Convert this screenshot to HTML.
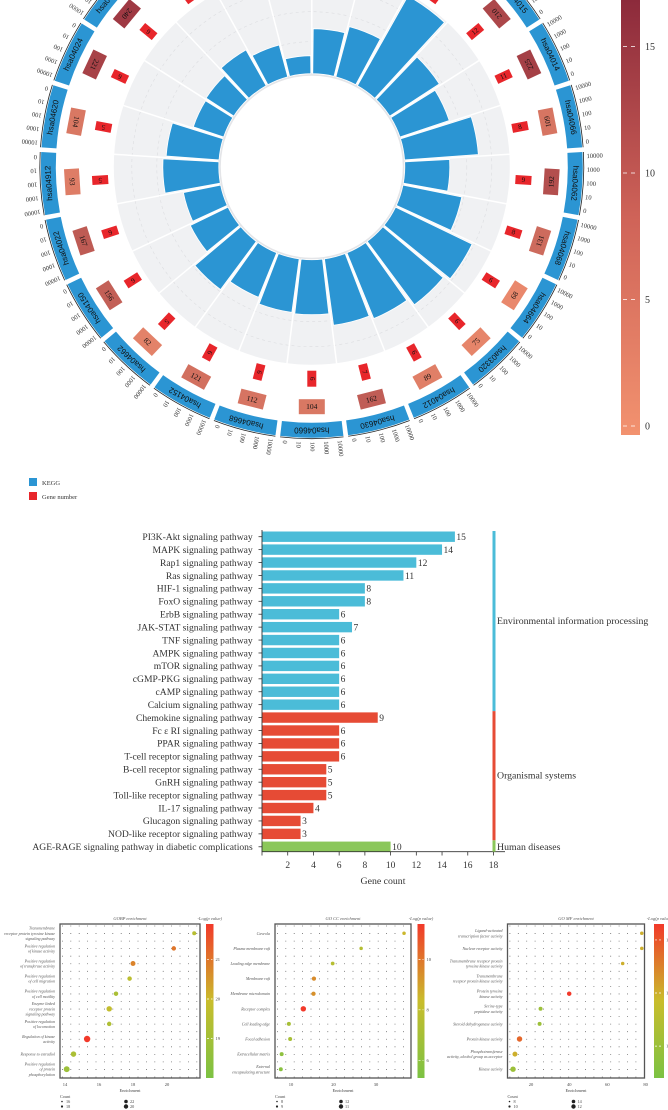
<!DOCTYPE html>
<html><head><meta charset="utf-8">
<style>
html,body{margin:0;padding:0;background:#fff;}
svg{display:block;font-family:"Liberation Serif",serif;}
</style></head>
<body>
<svg id="fig" width="668" height="1110" viewBox="0 0 668 1110" xmlns="http://www.w3.org/2000/svg">
<defs>
<linearGradient id="cbRed" x1="0" y1="1" x2="0" y2="0">
<stop offset="0" stop-color="#f2926f"/><stop offset="0.5" stop-color="#cf6358"/><stop offset="1" stop-color="#8c2a3b"/>
</linearGradient>
<linearGradient id="cbGo" x1="0" y1="1" x2="0" y2="0">
<stop offset="0" stop-color="#7cc243"/><stop offset="0.5" stop-color="#c9bd2c"/><stop offset="1" stop-color="#f2392a"/>
</linearGradient>
</defs>
<g id="circ"></g>
<g id="legend">
<rect x="29" y="478" width="8" height="8" fill="#2b95d3"/>
<text x="42" y="485" font-size="6.5" fill="#333">KEGG</text>
<rect x="29" y="492" width="8" height="8" fill="#e8262b"/>
<text x="42" y="499" font-size="6.5" fill="#333">Gene number</text>
</g>
<g id="bars"></g>
<g id="dots"></g>
</svg>
<script>
// ---------- circular chart data ----------
const sectorIds = ["hsa04660","hsa04668","hsa04152","hsa04662","hsa04150","hsa04022","hsa04912","hsa04620","hsa04024","hsa04020","hsa04657","hsa04922","hsa04621","hsa04933","hsa04151","hsa04010","hsa04015","hsa04014","hsa04066","hsa04062","hsa04068","hsa04664","hsa03320","hsa04012","hsa04630"];
const geneNumbers = [6,6,6,5,6,6,5,5,6,6,4,3,3,10,15,14,12,11,8,9,8,6,6,6,7];
const pathwaySizes = [104,112,121,82,156,167,93,104,221,240,94,105,98,100,354,294,210,225,109,192,131,68,75,89,162];
const keggValues = [57,56,50,62,44,40,58,55,34,35,43,35,20,47,54,105,61,54,76,47,62,87,81,73,69];
const ringTicks = ["0","10","100","1000","10000"];
const colorbarTicks = [0,5,10,15];

// ---------- bar chart data ----------
const pathways = ["PI3K-Akt signaling pathway","MAPK signaling pathway","Rap1 signaling pathway","Ras signaling pathway","HIF-1 signaling pathway","FoxO signaling pathway","ErbB signaling pathway","JAK-STAT signaling pathway","TNF signaling pathway","AMPK signaling pathway","mTOR signaling pathway","cGMP-PKG signaling pathway","cAMP signaling pathway","Calcium signaling pathway","Chemokine signaling pathway","Fc \u03b5 RI signaling pathway","PPAR signaling pathway","T-cell receptor signaling pathway","B-cell receptor signaling pathway","GnRH signaling pathway","Toll-like receptor signaling pathway","IL-17 signaling pathway","Glucagon signaling pathway","NOD-like receptor signaling pathway","AGE-RAGE signaling pathway in diabetic complications"];
const geneCounts = [15,14,12,11,8,8,6,7,6,6,6,6,6,6,9,6,6,6,5,5,5,4,3,3,10];
const pathwayGroups = [0,0,0,0,0,0,0,0,0,0,0,0,0,0,1,1,1,1,1,1,1,1,1,1,2];
const groupNames = ["Environmental information processing","Organismal systems","Human diseases"];
const xTicks = [2,4,6,8,10,12,14,16,18];

// ---------- GO dot plot data ----------
const bpTerms = [["Transmembrane","receptor protein tyrosine kinase","signaling pathway"],["Positive regulation","of kinase activity"],["Positive regulation","of transferase activity"],["Positive regulation","of cell migration"],["Positive regulation","of cell motility"],["Enzyme linked","receptor protein","signaling pathway"],["Positive regulation","of locomotion"],["Regulation of kinase","activity"],["Response to estradiol"],["Positive regulation","of protein","phosphorylation"]];
const bpEnrich = [21.6,20.4,18,17.8,17,16.6,16.6,15.3,14.5,14.1];
const bpLogP = [19.5,21,20.8,19.6,19.2,19.8,19.3,21.9,19.2,18.8];
const bpCount = [10,12,14,12,12,16,12,20,16,18];
const bpTicks = [14,16,18,20];
const bpCbTicks = [19,20,21];

const ccTerms = [["Caveola"],["Plasma membrane raft"],["Leading edge membrane"],["Membrane raft"],["Membrane microdomain"],["Receptor complex"],["Cell leading edge"],["Focal adhesion"],["Extracellular matrix"],["External","encapsulating structure"]];
const ccEnrich = [36.6,26.5,19.8,15.4,15.3,12.9,9.5,9.8,7.8,7.6];
const ccLogP = [8.5,7.5,7.6,9.5,9.4,11.4,7,7,6,5.8];
const ccCount = [8,8,9,11,11,16,10,10,10,10];
const ccTicks = [10,20,30];
const ccCbTicks = [6,8,10];

const mfTerms = [["Ligand-activated","transcription factor activity"],["Nuclear receptor activity"],["Transmembrane receptor protein","tyrosine kinase activity"],["Transmembrane","receptor protein kinase activity"],["Protein tyrosine","kinase activity"],["Serine-type","peptidase activity"],["Steroid dehydrogenase activity"],["Protein kinase activity"],["Phosphotransferase","activity, alcohol group as acceptor"],["Kinase activity"]];
const mfEnrich = [78,78,68,null,40,25,24.5,14,11.6,10.6];
const mfLogP = [13,13,13,null,14.3,12,12,13.8,13,12];
const mfCount = [8,8,8,0,12,10,10,16,14,16];
const mfTicks = [20,40,60,80];
const mfCbTicks = [12,13,14];

const NS = "http://www.w3.org/2000/svg";
function mk(tag, attrs, parent){
  const e = document.createElementNS(NS, tag);
  for (const k in attrs) e.setAttribute(k, attrs[k]);
  if (parent) parent.appendChild(e);
  return e;
}

// ================= circular chart =================
(function(){
  const g = document.getElementById('circ');
  const cx = 311.8, cy = 166.7;
  const n = sectorIds.length, step = 360 / n;
  const rIn = 91, rOut = 198;
  const rad = d => d * Math.PI / 180;
  const P = (r, d) => [cx + r * Math.cos(rad(d)), cy + r * Math.sin(rad(d))];
  function sector(r0, r1, a0, a1){
    const p0 = P(r1, a0), p1 = P(r1, a1), p2 = P(r0, a1), p3 = P(r0, a0);
    const la = (a1 - a0) > 180 ? 1 : 0;
    return `M${p0[0]},${p0[1]} A${r1},${r1} 0 ${la} 1 ${p1[0]},${p1[1]} L${p2[0]},${p2[1]} A${r0},${r0} 0 ${la} 0 ${p3[0]},${p3[1]} Z`;
  }
  const angle = k => 90 + k * step;
  const rScale = v => rIn + v;

  const bg = mk('circle', {cx, cy, r:(rIn+rOut)/2, fill:'none', stroke:'#f0f1f3', 'stroke-width':rOut-rIn}, g);
  
  
  [125,155,180].forEach(r => {
    const c = mk('circle', {cx, cy, r, fill:'none', stroke:'#dcdde0', 'stroke-width':0.6, 'stroke-dasharray':'3 3'}, g);
    
    
  });
  for (let k = 0; k < n; k++){
    const a = angle(k) - step/2;
    const p0 = P(rIn, a), p1 = P(rOut + 1, a);
    const l = mk('line', {x1:p0[0], y1:p0[1], x2:p1[0], y2:p1[1], stroke:'#fff', 'stroke-width':1.5}, g);
    
    
  }
  const inner = mk('circle', {cx, cy, r:rIn+1.5, fill:'#fff', stroke:'#e4e5e8', 'stroke-width':3}, g);
  
  

  function sizeColor(v){
    const t = Math.max(0, Math.min(1, (v - 60) / 200));
    const a = [236,140,110], b = [150,48,62];
    return `rgb(${a.map((x,i)=>Math.round(x+(b[i]-x)*t)).join(',')})`;
  }

  for (let k = 0; k < n; k++){
    const a = angle(k);
    const bar = mk('path', {d: sector(rIn + 2, rScale(keggValues[k]), a - step/2 + 0.6, a + step/2 - 0.6), fill:'#2b95d3', stroke:'#fff', 'stroke-width':0.8}, g);
    
    

    const ring = mk('path', {d: sector(256, 271, a - step/2 + 0.5, a + step/2 - 0.5), fill:'#2b95d3'}, g);
    
    
    const lp = P(263.5, a);
    const lt = mk('text', {x:lp[0], y:lp[1], 'font-size':8, 'font-family':'Liberation Sans, sans-serif', 'text-anchor':'middle', 'dominant-baseline':'central', fill:'#111', transform:`rotate(${a+90} ${lp[0]} ${lp[1]})`}, g);
    lt.textContent = sectorIds[k];
    
    

    const arc = mk('path', {d: `M${P(272,a-step/2+0.5).join(',')} A272,272 0 0 1 ${P(272,a+step/2-0.5).join(',')}`, fill:'none', stroke:'#222', 'stroke-width':0.8}, g);
    
    
    ringTicks.forEach((t, i) => {
      const ta = a + step/2 - 1.5 - i * (step - 3) / (ringTicks.length - 1);
      const tp = P(275, ta);
      const tt = mk('text', {x:tp[0], y:tp[1], 'font-size':6.5, fill:'#333', 'dominant-baseline':'central', transform:`rotate(${ta} ${tp[0]} ${tp[1]})`}, g);
      tt.textContent = t;
      
      
    });

    const gp = P(212, a);
    const gb = mk('rect', {x:gp[0]-4.5, y:gp[1]-8, width:9, height:16, fill:'#e8262b', transform:`rotate(${a-90} ${gp[0]} ${gp[1]})`}, g);
    
    
    const gt = mk('text', {x:gp[0], y:gp[1], 'font-size':7, 'text-anchor':'middle', 'dominant-baseline':'central', fill:'#111', transform:`rotate(${a} ${gp[0]} ${gp[1]})`}, g);
    gt.textContent = geneNumbers[k];
    
    

    const sp = P(240, a);
    const sb = mk('rect', {x:sp[0]-13, y:sp[1]-7.5, width:26, height:15, fill:sizeColor(pathwaySizes[k]), transform:`rotate(${a-90} ${sp[0]} ${sp[1]})`}, g);
    
    
    const st = mk('text', {x:sp[0], y:sp[1], 'font-size':7.5, 'text-anchor':'middle', 'dominant-baseline':'central', fill:'#111', transform:`rotate(${a-90} ${sp[0]} ${sp[1]})`}, g);
    st.textContent = pathwaySizes[k];
    
    
  }

  const cbY = v => 426 - v * 25.3;
  const cb = mk('rect', {x:621, y:0, width:19, height:cbY(0)+9, fill:'url(#cbRed)'}, g);
  
  
  colorbarTicks.forEach(v => {
    const l = mk('line', {x1:623, x2:638, y1:cbY(v), y2:cbY(v), stroke:'#fff', 'stroke-width':0.8, 'stroke-dasharray':'4 4'}, g);
    
    
    const t = mk('text', {x:645, y:cbY(v)+3.5, 'font-size':10, fill:'#333'}, g);
    t.textContent = v;
    
    
  });
})();

// ================= bar chart =================
(function(){
  const g = document.getElementById('bars');
  const x = v => 262 + v * 12.86;
  const y = i => 536.7 + i * 12.92;
  const colors = ['#4bbcd8','#e64b35','#8bc75a'];
  pathways.forEach((p, i) => {
    const r = mk('rect', {x:x(0), y:y(i)-5.2, width:x(geneCounts[i])-x(0), height:10.4, fill:colors[pathwayGroups[i]]}, g);
    
    
    const v = mk('text', {x:x(geneCounts[i])+1.5, y:y(i)+3.3, 'font-size':9.5, fill:'#333'}, g);
    v.textContent = geneCounts[i];
    
    
    const t = mk('text', {x:252.7, y:y(i)+3.3, 'font-size':9.6, 'text-anchor':'end', fill:'#333'}, g);
    t.textContent = p;
    
    
    const tk = mk('line', {x1:258.5, x2:262, y1:y(i), y2:y(i), stroke:'#333', 'stroke-width':0.8}, g);
    
    
  });
  const ya = mk('line', {x1:262, x2:262, y1:530, y2:852, stroke:'#333', 'stroke-width':0.9}, g);
  
  
  const xa = mk('line', {x1:262, x2:505, y1:851.7, y2:851.7, stroke:'#333', 'stroke-width':0.9}, g);
  
  
  const t0 = mk('line', {x1:262, x2:262, y1:851.7, y2:855.5, stroke:'#333', 'stroke-width':0.8}, g);
  
  
  xTicks.forEach(v => {
    const tk = mk('line', {x1:x(v), x2:x(v), y1:851.7, y2:855.5, stroke:'#333', 'stroke-width':0.8}, g);
    
    
    const tl = mk('text', {x:x(v), y:868, 'font-size':9.5, 'text-anchor':'middle', fill:'#333'}, g);
    tl.textContent = v;
    
    
  });
  const xt = mk('text', {x:383, y:884, 'font-size':9.8, 'text-anchor':'middle', fill:'#333'}, g);
  xt.textContent = 'Gene count';
  
  
  [0,1,2].forEach(gi => {
    const idx = pathwayGroups.map((v,i)=>v===gi?i:-1).filter(i=>i>=0);
    const y0 = gi === 0 ? 531 : y(idx[0]) - 6.46;
    const y1 = gi === 2 ? 851.7 : y(idx[idx.length-1]) + 6.46;
    const s = mk('rect', {x:492.5, y:y0, width:3, height:y1-y0, fill:colors[gi]}, g);
    
    
    const ty = gi === 0 ? 624 : gi === 1 ? 778.5 : 850;
    const t = mk('text', {x:497, y:ty, 'font-size':9.8, fill:'#333'}, g);
    t.textContent = groupNames[gi];
    
    
  });
})();

// ================= GO dot plots =================
function dotPanel(cfg){
  const g = mk('g', {}, document.getElementById('dots'));
  
  
  const top = 924, bot = 1078, rowY = i => 933.3 + i * 15.1;
  const x = v => cfg.x0 + (v - cfg.v0) * cfg.k;
  for (let yy = top + 2; yy < bot; yy += 7.55){
    const l = mk('line', {x1:cfg.L+2, x2:cfg.R-2, y1:yy, y2:yy, stroke:'#555', 'stroke-width':0.8, 'stroke-dasharray':'0.8 7.6'}, g);
    
    
  }
  const box = mk('rect', {x:cfg.L, y:top, width:cfg.R-cfg.L, height:bot-top, fill:'none', stroke:'#555', 'stroke-width':1.3}, g);
  
  
  const ti = mk('text', {x:(cfg.L+cfg.R)/2, y:920, 'font-size':4.5, 'font-style':'italic', 'text-anchor':'middle', fill:'#555'}, g);
  ti.textContent = cfg.title;
  
  
  cfg.terms.forEach((lines, i) => {
    const t = mk('text', {x:cfg.L-5, y:rowY(i) - (lines.length-1)*2.6 + 1.5, 'font-size':4, 'font-style':'italic', 'text-anchor':'end', fill:'#555'}, g);
    lines.forEach((ln, j) => {
      const s = mk('tspan', {x:cfg.L-5, dy: j === 0 ? 0 : 5.2}, t);
      s.textContent = ln;
    });
    
    
    if (cfg.enrich[i] == null) return;
    const lp = cfg.logp[i];
    const tt = Math.max(0, Math.min(1, (lp - cfg.c0) / (cfg.c1 - cfg.c0)));
    const col = tt < 0.5
      ? `rgb(${Math.round(124+(201-124)*tt*2)},${Math.round(194+(189-194)*tt*2)},${Math.round(67+(44-67)*tt*2)})`
      : `rgb(${Math.round(201+(242-201)*(tt-0.5)*2)},${Math.round(189+(57-189)*(tt-0.5)*2)},${Math.round(44+(42-44)*(tt-0.5)*2)})`;
    const c = mk('circle', {cx:x(cfg.enrich[i]), cy:rowY(i), r:0.8 + cfg.count[i]*0.12, fill:col}, g);
    
    
  });
  cfg.ticks.forEach(v => {
    const t = mk('text', {x:x(v), y:1086, 'font-size':4.5, 'text-anchor':'middle', fill:'#444'}, g);
    t.textContent = v;
    
    
  });
  const xt = mk('text', {x:(cfg.L+cfg.R)/2, y:1092, 'font-size':4.5, 'text-anchor':'middle', fill:'#444'}, g);
  xt.textContent = 'Enrichment';
  
  
  const cb = mk('rect', {x:cfg.cbx, y:top, width:cfg.cbw, height:bot-top, fill:'url(#cbGo)'}, g);
  
  
  const ct = mk('text', {x:cfg.cbx+cfg.cbw/2, y:920, 'font-size':4.5, 'font-style':'italic', 'text-anchor':'middle', fill:'#555'}, g);
  ct.textContent = '-Log(p value)';
  
  
  cfg.cbTicks.forEach(v => {
    const yy = bot - (v - cfg.c0) / (cfg.c1 - cfg.c0) * (bot - top);
    const l = mk('line', {x1:cfg.cbx+1, x2:cfg.cbx+cfg.cbw-1, y1:yy, y2:yy, stroke:'#fff', 'stroke-width':0.7, 'stroke-dasharray':'2 2'}, g);
    
    
    const t = mk('text', {x:cfg.cbx+cfg.cbw+2, y:yy+1.5, 'font-size':4.5, fill:'#444'}, g);
    t.textContent = v;
    
    
  });
  const lg = mk('text', {x:cfg.L, y:1098, 'font-size':4.2, fill:'#444'}, g);
  lg.textContent = 'Count';
  
  
  [[0,1103,0.8],[0,1108,1.1],[64,1103,1.8],[64,1108,2.2]].forEach(([dx,yy,r], j) => {
    const c = mk('circle', {cx:cfg.L+2+dx, cy:yy-1.5, r, fill:'#222'}, g);
    
    
    const t = mk('text', {x:cfg.L+6+dx, y:yy, 'font-size':4.2, fill:'#444'}, g);
    t.textContent = cfg.legend[j];
    
    
  });
}
dotPanel({name:'gobp-dot-plot', title:'GOBP enrichment', L:60, R:200, x0:65, v0:14, k:17, terms:bpTerms, enrich:bpEnrich, logp:bpLogP, count:bpCount, ticks:bpTicks, cbx:206, cbw:7.5, c0:18, c1:21.9, cbTicks:bpCbTicks, legend:['16','18','22','20']});
dotPanel({name:'gocc-dot-plot', title:'GO CC enrichment', L:275, R:411, x0:291, v0:10, k:4.25, terms:ccTerms, enrich:ccEnrich, logp:ccLogP, count:ccCount, ticks:ccTicks, cbx:417.5, cbw:7, c0:5.3, c1:11.4, cbTicks:ccCbTicks, legend:['8','9','12','11']});
dotPanel({name:'gomf-dot-plot', title:'GO MF enrichment', L:507.5, R:644.5, x0:531, v0:20, k:1.91, terms:mfTerms, enrich:mfEnrich, logp:mfLogP, count:mfCount, ticks:mfTicks, cbx:654, cbw:10, c0:11.4, c1:14.3, cbTicks:mfCbTicks, legend:['8','10','14','12']});
</script>
</body></html>
